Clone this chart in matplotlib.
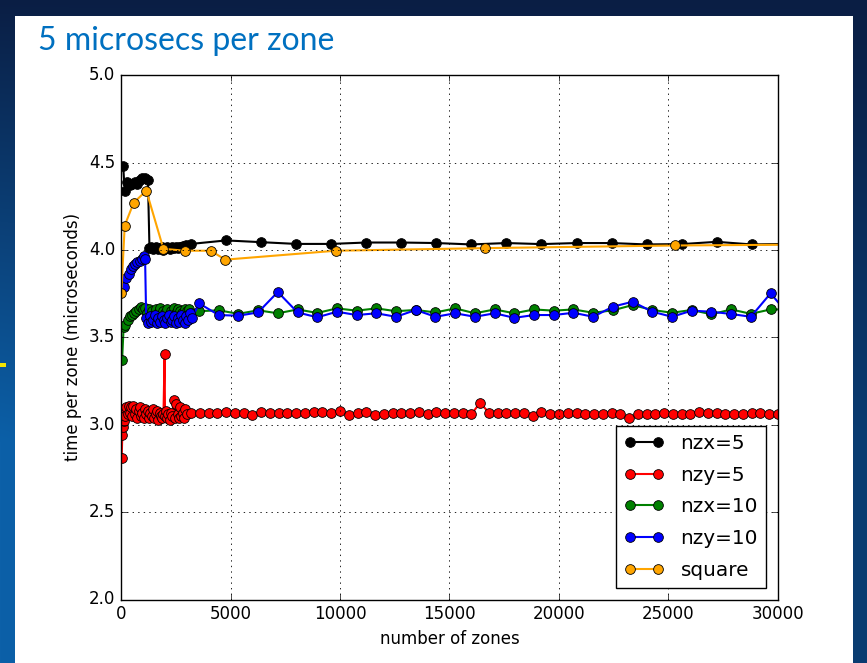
import numpy as np
import matplotlib
matplotlib.use("Agg")
import matplotlib.pyplot as plt
from matplotlib.patches import Rectangle

# ---------------- data ----------------
nzx5_x = [100, 170, 280, 400, 500, 620, 730, 850, 960, 1100, 1230,
          1300, 1380, 1460, 1540, 1620, 1700, 1780, 1860, 1940, 2020, 2100,
          2180, 2260, 2340, 2420, 2500, 2580, 2660, 2740, 2820, 2900, 2980,
          3060, 3200, 4800, 6400, 8000, 9600, 11200, 12800, 14400, 16000,
          17600, 19200, 20800, 22400, 24000, 25600, 27200, 28800, 30400]
nzx5_t = [4.48, 4.34, 4.39, 4.37, 4.38, 4.39, 4.38, 4.40, 4.41, 4.415, 4.40,
          4.01, 4.015, 4.005, 4.01, 4.02, 4.005, 4.01, 4.015, 4.00, 4.01, 4.02,
          4.01, 4.005, 4.015, 4.01, 4.02, 4.01, 4.015, 4.02, 4.025, 4.02, 4.03,
          4.025, 4.035, 4.055, 4.045, 4.035, 4.035, 4.043, 4.043, 4.040, 4.032,
          4.040, 4.034, 4.040, 4.040, 4.032, 4.034, 4.047, 4.032, 4.035]

nzy5_x_small = [30, 60, 90, 120, 160, 200, 250, 300, 350, 400, 450, 500, 560,
                620, 680, 740, 800, 860, 920, 980, 1040, 1100, 1160, 1220,
                1280, 1340, 1400, 1460, 1520, 1580, 1640, 1700, 1760, 1820,
                1880, 1940, 1990, 2010, 2040, 2100, 2160, 2220, 2280, 2340,
                2400, 2460, 2520, 2580, 2640, 2700, 2760, 2820, 2880, 2940, 3000]
nzy5_t_small = [2.81, 2.94, 2.99, 3.02, 3.09, 3.05, 3.10, 3.06, 3.11, 3.07,
                3.10, 3.05, 3.11, 3.06, 3.09, 3.04, 3.08, 3.10, 3.05, 3.07,
                3.04, 3.09, 3.06, 3.08, 3.04, 3.07, 3.05, 3.09, 3.04, 3.06,
                3.08, 3.03, 3.07, 3.05, 3.04, 3.06, 3.405, 3.05, 3.08, 3.04,
                3.06, 3.03, 3.07, 3.05, 3.14, 3.04, 3.12, 3.06, 3.04, 3.10,
                3.05, 3.07, 3.04, 3.09, 3.06]
nzy5_x_large = list(range(3200, 30001, 400))
nzy5_t_large = [3.069, 3.067, 3.067, 3.069, 3.071, 3.067, 3.066, 3.058, 3.075,
                3.067, 3.067, 3.067, 3.070, 3.069, 3.073, 3.073, 3.070, 3.076,
                3.058,
                3.069, 3.075, 3.056, 3.061, 3.065, 3.065, 3.069, 3.071, 3.059,
                3.073, 3.069, 3.065, 3.065, 3.061, 3.126, 3.069, 3.065, 3.065,
                3.065, 3.065, 3.050, 3.073, 3.059, 3.063, 3.065, 3.065, 3.059,
                3.061, 3.061, 3.065, 3.059, 3.037, 3.059, 3.059, 3.063, 3.069,
                3.061, 3.061, 3.063, 3.075, 3.065, 3.065, 3.059, 3.059, 3.061,
                3.065, 3.065, 3.063, 3.059]

nzx10_x_small = [50, 120, 200, 300, 400, 500, 600, 700, 800, 900, 1000, 1100,
                 1200, 1300, 1400, 1500, 1600, 1700, 1800, 1900, 2000, 2100,
                 2200, 2300, 2400, 2500, 2600, 2700, 2800, 2900, 3000, 3100, 3200]
nzx10_t_small = [3.37, 3.56, 3.57, 3.60, 3.62, 3.63, 3.64, 3.65, 3.66, 3.675,
                 3.66, 3.67, 3.64, 3.66, 3.65, 3.63, 3.66, 3.64, 3.67, 3.65,
                 3.64, 3.66, 3.63, 3.65, 3.67, 3.64, 3.66, 3.65, 3.64, 3.66,
                 3.65, 3.66, 3.64]
n10_x_large = list(range(3560, 30561, 900))
nzx10_t_large = [3.650, 3.655, 3.635, 3.655, 3.638, 3.660, 3.640, 3.666,
                 3.653, 3.666, 3.650, 3.657, 3.643, 3.666, 3.638, 3.660, 3.638,
                 3.660, 3.653, 3.660, 3.641, 3.655, 3.685, 3.657, 3.641, 3.657,
                 3.632, 3.660, 3.635, 3.660, 3.660]

nzy10_x_small = [150, 250, 350, 450, 550, 650, 750, 850, 950, 1050, 1100,
                 1150, 1230, 1310, 1390, 1470, 1550, 1630, 1710, 1790, 1870,
                 1950, 2030, 2110, 2190, 2270, 2350, 2430, 2510, 2590, 2670,
                 2750, 2830, 2910, 2990, 3070, 3150, 3250]
nzy10_t_small = [3.79, 3.84, 3.86, 3.89, 3.91, 3.92, 3.93, 3.94, 3.95, 3.965,
                 3.95,
                 3.61, 3.58, 3.62, 3.59, 3.60, 3.63, 3.58, 3.61, 3.59, 3.62,
                 3.60, 3.58, 3.61, 3.63, 3.59, 3.60, 3.62, 3.58, 3.61, 3.59,
                 3.63, 3.60, 3.58, 3.62, 3.60, 3.64, 3.61]
nzy10_t_large = [3.695, 3.628, 3.624, 3.643, 3.760, 3.643, 3.615, 3.647,
                 3.628, 3.638, 3.618, 3.657, 3.618, 3.638, 3.618, 3.638, 3.612,
                 3.628, 3.628, 3.641, 3.618, 3.676, 3.704, 3.647, 3.618, 3.653,
                 3.647, 3.634, 3.618, 3.752, 3.620]

square_x = [16, 169, 576, 1156, 1936, 2916, 4096, 4761, 9801, 16641, 25281, 35721]
square_t = [3.755, 4.14, 4.27, 4.34, 4.007, 3.996, 3.996, 3.945, 3.996, 4.011,
            4.026, 4.035]

series = [
    ("nzx=5", nzx5_x, nzx5_t, "k"),
    ("nzy=5", nzy5_x_small + nzy5_x_large, nzy5_t_small + nzy5_t_large, "r"),
    ("nzx=10", nzx10_x_small + n10_x_large, nzx10_t_small + nzx10_t_large, "g"),
    ("nzy=10", nzy10_x_small + n10_x_large, nzy10_t_small + nzy10_t_large, "b"),
    ("square", square_x, square_t, "#ffa500"),
]

x_ticks = [0, 5000, 10000, 15000, 20000, 25000, 30000]
y_ticks = [2.0, 2.5, 3.0, 3.5, 4.0, 4.5, 5.0]

# ---------------- figure ----------------
plt.style.use("classic")
W, H = 867, 663
fig = plt.figure(figsize=(W / 100, H / 100), dpi=100)
fig.patch.set_facecolor("#0c2a55")

# slide background gradient
bg = fig.add_axes([0, 0, 1, 1], zorder=-10)
yy, xx = np.mgrid[0:H, 0:W]
navy = np.array([10, 30, 68]) / 255.0
blue = np.array([12, 96, 168]) / 255.0
f = np.clip(yy / H * 1.5, 0, 1) * (1 - 0.55 * xx / W)
img = navy[None, None, :] + (blue - navy)[None, None, :] * f[:, :, None]
bg.imshow(img, aspect="auto", extent=[0, W, H, 0], interpolation="bilinear")
bg.set_xlim(0, W)
bg.set_ylim(H, 0)
bg.axis("off")

# white slide panel and small marker on the left edge
bg.add_patch(Rectangle((15, 16), 838, 660, facecolor="white", edgecolor="none"))
bg.add_patch(Rectangle((0, 363), 6, 4, facecolor="#f5e400", edgecolor="none"))

fig.text(38 / W, 1 - 50 / H, "5 microsecs per zone", family="Lato",
         fontsize=23, color="#0070c0", ha="left", va="baseline")

ax = fig.add_axes([121 / W, 1 - 599.5 / H, (778 - 121) / W, (599.5 - 75.3) / H])
ax.set_facecolor("white")

for label, xs, ts, c in series:
    ax.plot(xs, ts, "-o", color=c, lw=1.5, marker="o", markersize=7,
            markerfacecolor=c, markeredgecolor="k", markeredgewidth=0.6,
            label=label)

ax.set_xlim(0, 30000)
ax.set_ylim(2.0, 5.0)
ax.set_xticks(x_ticks)
ax.set_yticks(y_ticks)
ax.set_yticklabels([f"{v:.1f}" for v in y_ticks])
ax.grid(True, color="k", linestyle=":", linewidth=0.6)
ax.tick_params(labelsize=12, direction="in", length=4, top=True, right=True)
ax.set_xlabel("number of zones", fontsize=12)
ax.set_ylabel("time per zone (microseconds)", fontsize=12)

leg = ax.legend(loc="lower right", numpoints=2, fontsize=14.4, fancybox=False,
                borderaxespad=0.6, labelspacing=0.63, handlelength=2.0)
leg.get_frame().set_edgecolor("k")
leg.get_frame().set_linewidth(1.0)

fig.savefig("out.png", dpi=100, facecolor=fig.get_facecolor())
